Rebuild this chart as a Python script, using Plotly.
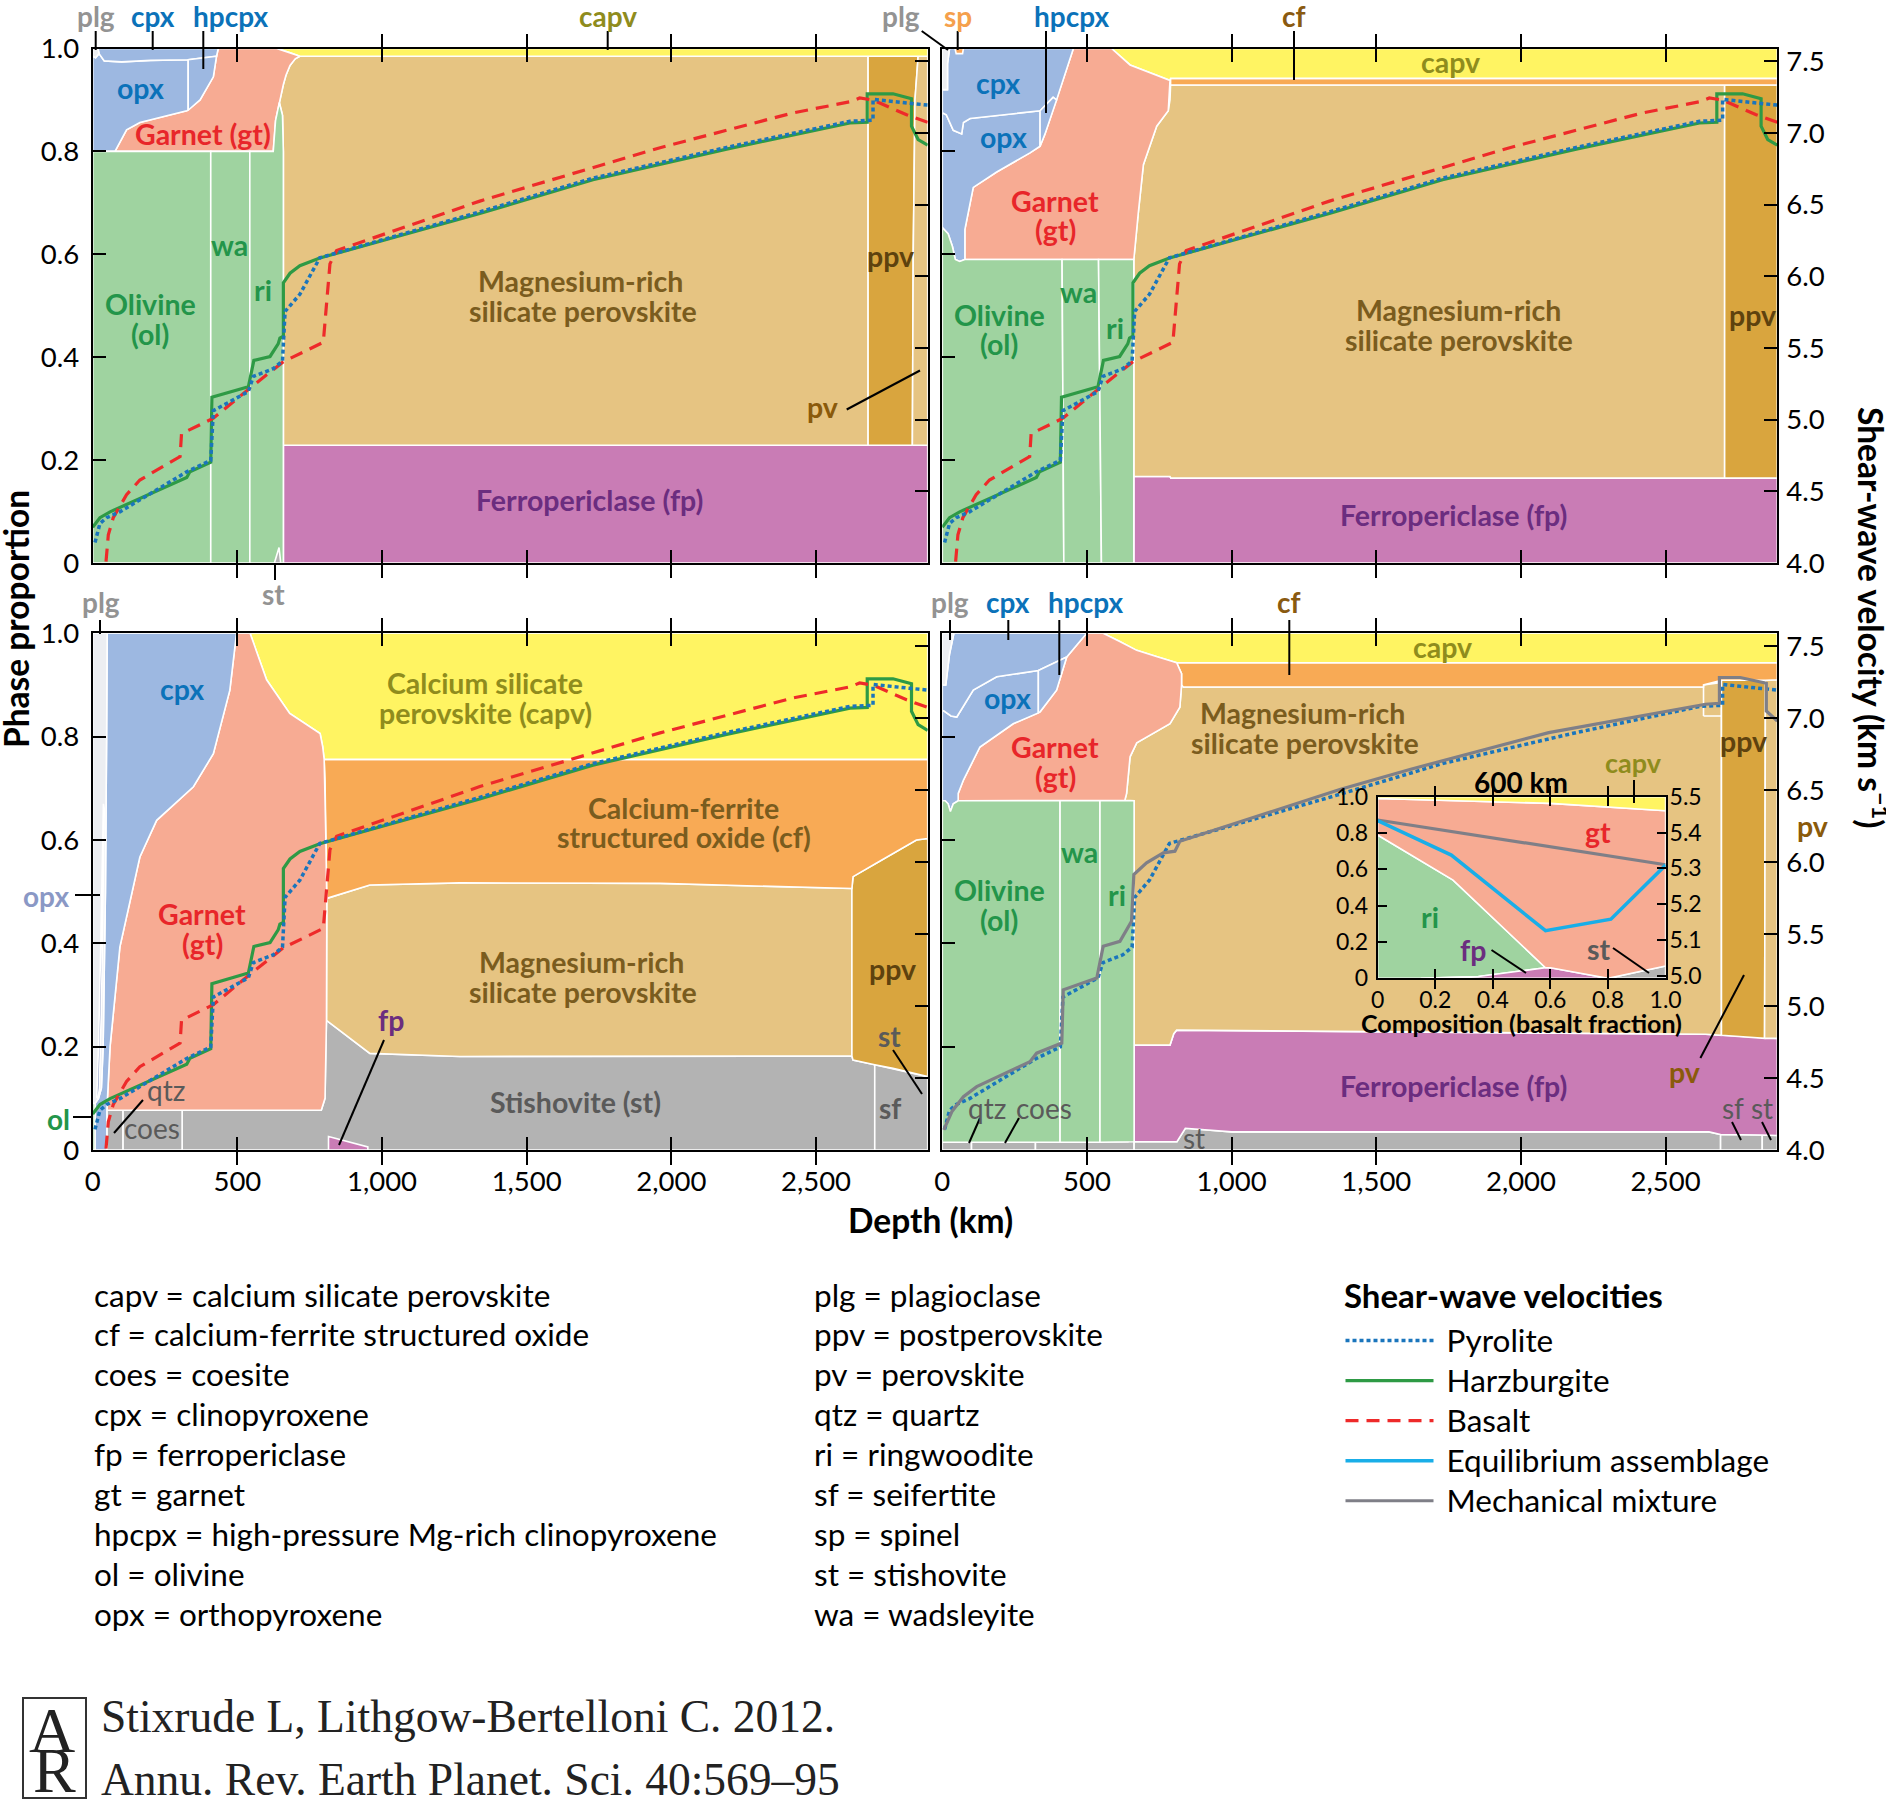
import plotly.graph_objects as go

W, H = 1886, 1808
D = 2886
FONT = "Lato"

# ---------------- velocity profiles (km/s) ----------------
HZ_DEPTH = [0, 25, 60, 325, 336, 408, 412, 538, 557, 613, 641, 647, 659, 659, 682, 716, 785,
            1338, 1729, 2191, 2617, 2677, 2677, 2766, 2830, 2830, 2853, 2886]
HZ_VS = [4.25, 4.316, 4.357, 4.596, 4.637, 4.703, 5.156, 5.23, 5.414, 5.441, 5.529, 5.569, 5.582,
         5.955, 6.022, 6.074, 6.128, 6.439, 6.674, 6.888, 7.07, 7.075, 7.274, 7.274, 7.24, 7.048,
         6.955, 6.915]

PY_DEPTH = [8, 25, 48, 94, 325, 408, 417, 538, 555, 624, 656, 659, 665, 716, 785, 1338, 1729,
            2191, 2617, 2697, 2697, 2790, 2886]
PY_VS = [4.143, 4.276, 4.316, 4.357, 4.636, 4.716, 5.063, 5.196, 5.302, 5.356, 5.409, 5.556,
         5.756, 5.875, 6.13, 6.45, 6.685, 6.90, 7.082, 7.09, 7.235, 7.215, 7.195]

BA_DEPTH = [46, 54, 71, 117, 163, 302, 307, 417, 543, 659, 797, 820, 843, 1338, 1961, 2421, 2617,
            2651, 2697, 2813, 2886]
BA_VS = [4.01, 4.196, 4.316, 4.476, 4.579, 4.743, 4.902, 5.01, 5.22, 5.405, 5.54, 6.087, 6.18,
         6.525, 6.898, 7.141, 7.218, 7.245, 7.23, 7.128, 7.075]

MM_DEPTH = [5, 34, 73, 119, 303, 326, 413, 418, 534, 556, 614, 654, 662, 706, 764, 804, 821,
            1374, 1616, 2096, 2638, 2686, 2686, 2758, 2848, 2848, 2886]
MM_VS = [4.14, 4.27, 4.37, 4.44, 4.614, 4.673, 4.743, 5.113, 5.195, 5.415, 5.45, 5.589, 5.914,
         5.995, 6.065, 6.076, 6.145, 6.505, 6.644, 6.9, 7.097, 7.104, 7.283, 7.283, 7.243, 7.05,
         6.98]

# inset: 600 km, composition (basalt fraction)
INSET_COMP = [0, 0.256, 0.583, 0.81, 1.0]
EQ_VS = [5.433, 5.337, 5.126, 5.158, 5.309]
MECH_COMP = [0, 1.0]
MECH_VS_600 = [5.435, 5.31]

# ---------------- phase regions (depth km, cumulative proportion) ----------------
# Panel A (top left)
A_PLG = [(0, 1.0), (18, 1.0), (22, 0.99), (10, 0.982), (0, 0.985)]
A_CPX = [(18, 1.0), (434, 1.0), (428, 0.985), (330, 0.978), (200, 0.977), (100, 0.974), (40, 0.976), (22, 0.99)]
A_OPX = [(0, 0.80), (77, 0.80), (117, 0.842), (163, 0.856), (325, 0.879), (330, 0.88), (330, 0.978),
         (200, 0.977), (100, 0.974), (40, 0.976), (22, 0.99), (10, 0.982), (0, 0.985)]
A_HPCPX = [(330, 0.88), (371, 0.90), (417, 0.945), (428, 0.985), (330, 0.978)]
A_GT = [(77, 0.80), (624, 0.80), (632, 0.86), (645, 0.895), (659, 0.93), (668, 0.948), (682, 0.967),
        (700, 0.980), (716, 0.985), (680, 0.992), (636, 1.0), (434, 1.0), (428, 0.985), (417, 0.945),
        (371, 0.90), (325, 0.879), (163, 0.856), (117, 0.842)]
A_CAPV = [(636, 1.0), (D, 1.0), (D, 0.985), (716, 0.985), (680, 0.992)]
A_OL = [(0, 0), (408, 0), (408, 0.80), (0, 0.80)]
A_WA = [(408, 0), (543, 0), (543, 0.80), (408, 0.80)]
A_RI = [(543, 0), (659, 0), (659, 0.80), (656, 0.87), (645, 0.895), (632, 0.86), (624, 0.80), (543, 0.80)]
A_ST = [(628, 0), (650, 0), (644, 0.03), (637, 0.015)]
A_FP = [(659, 0), (D, 0), (D, 0.229), (659, 0.229)]
A_PV = [(659, 0.229), (2680, 0.229), (2680, 0.985), (716, 0.985), (700, 0.980), (682, 0.967),
        (668, 0.948), (659, 0.93), (645, 0.895), (656, 0.87), (659, 0.80)]
A_PPV = [(2680, 0.229), (2833, 0.229), (2836, 0.6), (2842, 0.9), (2853, 0.985), (2680, 0.985)]
A_PV2 = [(2833, 0.229), (D, 0.229), (D, 0.985), (2853, 0.985), (2842, 0.9), (2836, 0.6)]

# Panel B (top right)
B_PLG = [(0, 0.92), (18, 0.92), (18, 0.97), (25, 1.0), (0, 1.0)]
B_SP = [(44, 1.0), (73, 1.0), (70, 0.99), (48, 0.99)]
B_CPX = [(0, 0.875), (14, 0.871), (38, 0.841), (67, 0.834), (73, 0.856), (96, 0.864), (338, 0.879),
         (383, 0.905), (395, 0.90), (430, 0.96), (453, 1.0), (25, 1.0), (18, 0.97), (18, 0.92), (0, 0.92)]
B_OPX = [(0, 0.652), (20, 0.64), (35, 0.615), (45, 0.59), (60, 0.586), (78, 0.59), (78, 0.648),
         (107, 0.73), (188, 0.76), (303, 0.797), (338, 0.81), (338, 0.879), (96, 0.864), (73, 0.856),
         (67, 0.834), (38, 0.841), (14, 0.871), (0, 0.875)]
B_HPCPX = [(338, 0.81), (355, 0.834), (395, 0.90), (383, 0.905), (338, 0.879)]
B_GT = [(78, 0.59), (662, 0.59), (677, 0.678), (695, 0.774), (741, 0.849), (781, 0.879), (787, 0.938),
        (683, 0.96), (649, 0.968), (585, 1.0), (453, 1.0), (430, 0.96), (395, 0.90), (355, 0.834),
        (338, 0.81), (303, 0.797), (188, 0.76), (107, 0.73), (78, 0.648)]
B_CAPV = [(585, 1.0), (D, 1.0), (D, 0.942), (789, 0.942), (787, 0.938), (683, 0.96), (649, 0.968)]
B_CF = [(789, 0.942), (D, 0.942), (D, 0.929), (789, 0.929)]
B_PV = [(662, 0.168), (787, 0.168), (790, 0.165), (2704, 0.165), (2704, 0.929), (789, 0.929),
        (787, 0.90), (781, 0.879), (741, 0.849), (695, 0.774), (677, 0.678), (662, 0.59)]
B_PPV = [(2704, 0.165), (D, 0.165), (D, 0.929), (2704, 0.929)]
B_OL = [(0, 0), (420, 0), (414, 0.59), (78, 0.59), (60, 0.586), (45, 0.59), (35, 0.615), (20, 0.64), (0, 0.652)]
B_WA = [(420, 0), (550, 0), (540, 0.59), (414, 0.59)]
B_RI = [(550, 0), (662, 0), (662, 0.59), (540, 0.59)]
B_FP = [(662, 0), (D, 0), (D, 0.165), (790, 0.165), (787, 0.168), (662, 0.168)]

# Panel C (bottom left)
C_OL = [(0, 0), (8, 0), (8, 0.09), (0, 0.09)]
C_PLG = [(0, 0.09), (8, 0.09), (20, 0.1), (30, 0.12), (36, 0.2), (44, 0.5), (48, 0.8), (50, 1.0), (0, 1.0)]
C_CPX = [(8, 0), (49, 0), (49, 0.077), (56, 0.161), (60, 0.2), (94, 0.393), (163, 0.567), (221, 0.638),
         (348, 0.703), (417, 0.767), (474, 0.89), (497, 1.0), (50, 1.0), (48, 0.8), (44, 0.5), (36, 0.2),
         (30, 0.12), (20, 0.1), (8, 0.09)]
C_OPX = [(14, 0.1), (20, 0.2), (28, 0.4), (33, 0.55), (37, 0.67), (40, 0.66), (37, 0.5), (31, 0.3),
         (23, 0.12), (19, 0.1)]
C_QTZ = [(49, 0), (105, 0), (105, 0.077), (49, 0.077)]
C_COES = [(105, 0), (309, 0), (309, 0.077), (105, 0.077)]
C_GT = [(49, 0.077), (790, 0.077), (803, 0.10), (806, 0.20), (808, 0.251), (809, 0.458), (809, 0.487),
        (806, 0.60), (803, 0.716), (800, 0.756), (795, 0.78), (786, 0.806), (681, 0.845), (601, 0.91),
        (544, 1.0), (497, 1.0), (474, 0.89), (417, 0.767), (348, 0.703), (221, 0.638), (163, 0.567),
        (94, 0.393), (60, 0.2), (56, 0.161)]
C_CAPV = [(544, 1.0), (D, 1.0), (D, 0.756), (800, 0.756), (795, 0.78), (786, 0.806), (681, 0.845), (601, 0.91)]
C_CF = [(809, 0.487), (958, 0.513), (1269, 0.517), (1961, 0.516), (2624, 0.506), (2628, 0.529),
        (2708, 0.555), (2766, 0.574), (2847, 0.60), (D, 0.603), (D, 0.756), (800, 0.756), (803, 0.716),
        (806, 0.60)]
C_PV = [(808, 0.251), (958, 0.187), (1269, 0.181), (2624, 0.182), (2624, 0.506), (1961, 0.516),
        (1269, 0.517), (958, 0.513), (809, 0.487), (809, 0.458)]
C_PPV = [(2624, 0.182), (2628, 0.174), (2703, 0.165), (2766, 0.158), (D, 0.142), (D, 0.603),
         (2847, 0.60), (2766, 0.574), (2708, 0.555), (2628, 0.529), (2624, 0.506)]
C_ST = [(309, 0), (2703, 0), (2703, 0.165), (2628, 0.174), (2624, 0.182), (1269, 0.181), (958, 0.187),
        (808, 0.251), (806, 0.20), (803, 0.10), (790, 0.077), (309, 0.077)]
C_SF = [(2703, 0), (D, 0), (D, 0.142), (2766, 0.158), (2703, 0.165)]
C_FP = [(815, 0), (951, 0), (951, 0.006), (815, 0.026)]

# Panel D (bottom right)
D_QTZ = [(0, 0), (101, 0), (101, 0.015), (0, 0.015)]
D_COES = [(101, 0), (322, 0), (322, 0.015), (101, 0.015)]
D_ST1 = [(322, 0), (663, 0), (663, 0.016), (650, 0.03), (642, 0.016), (322, 0.015)]
D_ST2 = [(663, 0), (2690, 0), (2690, 0.03), (2650, 0.035), (1000, 0.035), (840, 0.042), (811, 0.016), (663, 0.016)]
D_SF = [(2690, 0), (2834, 0), (2834, 0.029), (2690, 0.03)]
D_ST3 = [(2834, 0), (D, 0), (D, 0.028), (2834, 0.029)]
D_OL = [(0, 0.015), (407, 0.015), (407, 0.676), (55, 0.676), (38, 0.67), (28, 0.655), (20, 0.67),
        (10, 0.676), (0, 0.676)]
D_WA = [(407, 0.015), (545, 0.015), (545, 0.676), (407, 0.676)]
D_RI = [(545, 0.015), (663, 0.016), (663, 0.676), (545, 0.676)]
D_FP = [(663, 0.016), (811, 0.016), (840, 0.042), (1000, 0.035), (2650, 0.035), (2690, 0.03),
        (2834, 0.029), (D, 0.028), (D, 0.216), (2638, 0.224), (810, 0.232), (800, 0.225), (787, 0.203),
        (663, 0.203)]
D_PV = [(663, 0.203), (787, 0.203), (800, 0.225), (810, 0.232), (2638, 0.224), (2693, 0.222),
        (2693, 0.905), (2631, 0.90), (2631, 0.896), (833, 0.896), (827, 0.90), (821, 0.857),
        (787, 0.825), (672, 0.788), (649, 0.761), (637, 0.69), (631, 0.677), (663, 0.676)]
D_PV_PATCH = [(2631, 0.84), (2693, 0.84), (2693, 0.905), (2631, 0.90)]
D_PPV = [(2693, 0.222), (2842, 0.216), (2845, 0.909), (2693, 0.909)]
D_PV2 = [(2842, 0.216), (D, 0.216), (D, 0.91), (2845, 0.909)]
D_CF = [(810, 0.943), (D, 0.943), (D, 0.91), (2845, 0.909), (2693, 0.909), (2631, 0.90),
        (2631, 0.896), (833, 0.896), (827, 0.90), (827, 0.922)]
D_CAPV = [(556, 1.0), (D, 1.0), (D, 0.943), (810, 0.943), (740, 0.955), (672, 0.967), (610, 0.985)]
D_GT = [(55, 0.676), (631, 0.677), (637, 0.69), (649, 0.761), (672, 0.788), (787, 0.825), (821, 0.857),
        (827, 0.90), (827, 0.922), (810, 0.943), (740, 0.955), (672, 0.967), (610, 0.985), (556, 1.0),
        (499, 1.0), (430, 0.954), (395, 0.89), (338, 0.848), (245, 0.825), (130, 0.78), (73, 0.716),
        (55, 0.69)]
D_OPX = [(0, 0.676), (10, 0.676), (20, 0.67), (28, 0.655), (38, 0.67), (55, 0.676), (55, 0.69),
         (73, 0.716), (130, 0.78), (245, 0.825), (332, 0.846), (332, 0.928), (188, 0.916), (107, 0.89),
         (50, 0.838), (30, 0.84), (5, 0.85), (0, 0.85)]
D_HPCPX = [(332, 0.846), (338, 0.848), (395, 0.89), (430, 0.954), (332, 0.928)]
D_CPX = [(0, 0.85), (5, 0.85), (30, 0.84), (50, 0.838), (107, 0.89), (188, 0.916), (332, 0.928),
         (430, 0.954), (499, 1.0), (40, 1.0), (25, 0.96), (12, 0.9), (0, 0.9)]
D_PLG = [(0, 0.9), (12, 0.9), (25, 0.96), (40, 1.0), (0, 1.0)]

# Inset (600 km vs composition)
I_RI = [(0, 0), (0.15, 0), (0.35, 0.01), (0.52, 0.045), (0.583, 0.058), (0.262, 0.541), (0, 0.789)]
I_FP = [(0.15, 0), (0.8, 0), (0.6, 0.058), (0.583, 0.058), (0.52, 0.045), (0.35, 0.01)]
I_ST = [(0.8, 0), (1, 0), (1, 0.068), (0.9, 0.035)]
I_GT = [(0, 0.789), (0.262, 0.541), (0.583, 0.058), (0.6, 0.058), (0.8, 0), (0.9, 0.035), (1, 0.068),
        (1, 0.923), (0.6, 0.963), (0, 0.99)]
I_CAPV = [(0, 0.99), (0.6, 0.963), (1, 0.923), (1, 1), (0, 1)]

# ---------------- tick labels / text ----------------
X_TICKS = [0, 500, 1000, 1500, 2000, 2500]
X_TICK_TEXT = ["0", "500", "1,000", "1,500", "2,000", "2,500"]
P_TICKS = [0, 0.2, 0.4, 0.6, 0.8, 1.0]
P_TICK_TEXT = ["0", "0.2", "0.4", "0.6", "0.8", "1.0"]
V_TICKS = [4.0, 4.5, 5.0, 5.5, 6.0, 6.5, 7.0, 7.5]
V_TICK_TEXT = ["4.0", "4.5", "5.0", "5.5", "6.0", "6.5", "7.0", "7.5"]
IV_TICKS = [5.0, 5.1, 5.2, 5.3, 5.4, 5.5]
IV_TICK_TEXT = ["5.0", "5.1", "5.2", "5.3", "5.4", "5.5"]

ABBREV_LEFT = ["capv = calcium silicate perovskite", "cf = calcium-ferrite structured oxide",
               "coes = coesite", "cpx = clinopyroxene", "fp = ferropericlase", "gt = garnet",
               "hpcpx = high-pressure Mg-rich clinopyroxene", "ol = olivine", "opx = orthopyroxene"]
ABBREV_RIGHT = ["plg = plagioclase", "ppv = postperovskite", "pv = perovskite", "qtz = quartz",
                "ri = ringwoodite", "sf = seifertite", "sp = spinel", "st = stishovite",
                "wa = wadsleyite"]

# ---------------- styles ----------------
C = dict(ol="#9fd3a0", px="#9db8e1", gt="#f7ab93", pv="#e6c482", fp="#c97cb5", capv="#fff462",
         cf="#f8aa55", ppv="#d9a53e", st="#b3b3b3", plg="#eceef2", sp="#f9a55a", opx2="#8593bf")
T = dict(blue="#0b72b9", red="#e8262a", green="#23954a", brown="#7a5c1e", purple="#6b2d7f",
         olive="#8f8c1d", gray="#939393", dgray="#5a5a5a", ppv="#5e420e", pv="#8a5a0b",
         sp="#f5a04c", cf="#8a5a10", opx2="#8a98c5")
LBL = 28.5   # region label size
TOP = 28     # small phase label size

fig = go.Figure()


def poly(pts, color, xa, ya):
    xs = [p[0] for p in pts] + [pts[0][0]]
    ys = [p[1] for p in pts] + [pts[0][1]]
    fig.add_trace(go.Scatter(x=xs, y=ys, xaxis=xa, yaxis=ya, mode="lines", fill="toself",
                             fillcolor=color, line=dict(color="white", width=1.6),
                             hoverinfo="skip", showlegend=False))


PANELS = {
    ("x", "y"): [(A_FP, "fp"), (A_PV, "pv"), (A_PPV, "ppv"), (A_PV2, "pv"), (A_CAPV, "capv"),
                 (A_GT, "gt"), (A_OPX, "px"), (A_CPX, "px"), (A_HPCPX, "px"), (A_PLG, "plg"),
                 (A_OL, "ol"), (A_WA, "ol"), (A_RI, "ol"), (A_ST, "st")],
    ("x2", "y3"): [(B_FP, "fp"), (B_PV, "pv"), (B_PPV, "ppv"), (B_CF, "cf"), (B_CAPV, "capv"),
                   (B_GT, "gt"), (B_OPX, "px"), (B_CPX, "px"), (B_HPCPX, "px"), (B_PLG, "plg"),
                   (B_SP, "sp"), (B_OL, "ol"), (B_WA, "ol"), (B_RI, "ol")],
    ("x3", "y5"): [(C_ST, "st"), (C_SF, "st"), (C_QTZ, "st"), (C_COES, "st"), (C_FP, "fp"),
                   (C_PV, "pv"), (C_PPV, "ppv"), (C_CF, "cf"), (C_CAPV, "capv"), (C_GT, "gt"),
                   (C_CPX, "px"), (C_PLG, "plg"), (C_OPX, "opx2"), (C_OL, "ol")],
    ("x4", "y7"): [(D_QTZ, "st"), (D_COES, "st"), (D_ST1, "st"), (D_ST2, "st"), (D_SF, "st"),
                   (D_ST3, "st"), (D_FP, "fp"), (D_PV, "pv"), (D_PV_PATCH, "pv"), (D_PPV, "ppv"),
                   (D_PV2, "pv"), (D_CF, "cf"), (D_CAPV, "capv"), (D_GT, "gt"), (D_OPX, "px"),
                   (D_CPX, "px"), (D_HPCPX, "px"), (D_PLG, "plg"), (D_OL, "ol"), (D_WA, "ol"),
                   (D_RI, "ol")],
    ("x5", "y9"): [(I_RI, "ol"), (I_FP, "fp"), (I_ST, "st"), (I_GT, "gt"), (I_CAPV, "capv")],
}
for (xa, ya), regions in PANELS.items():
    for pts, key in regions:
        poly(pts, C[key], xa, ya)

PY_STYLE = dict(color="#1a75bc", width=3.5, dash="4px,3px")
HZ_STYLE = dict(color="#2e9a45", width=3.2)
BA_STYLE = dict(color="#ee2a2a", width=3.2, dash="13px,8px")
EQ_STYLE = dict(color="#19aee8", width=3.5)
MM_STYLE = dict(color="#7f7f87", width=3.2)


def legname(s):
    return f'<span style="font-size:31.5px">\u00a0{s}</span>'


def line(xa, ya, xs, ys, style, name, show, rank):
    fig.add_trace(go.Scatter(x=xs, y=ys, xaxis=xa, yaxis=ya, mode="lines", line=style,
                             name=legname(name), showlegend=show, legendrank=rank,
                             hoverinfo="skip"))


for i, (xa, ya) in enumerate([("x", "y2"), ("x2", "y4"), ("x3", "y6")]):
    first = i == 0
    line(xa, ya, HZ_DEPTH, HZ_VS, HZ_STYLE, "Harzburgite", first, 2)
    line(xa, ya, BA_DEPTH, BA_VS, BA_STYLE, "Basalt", first, 3)
    line(xa, ya, PY_DEPTH, PY_VS, PY_STYLE, "Pyrolite", first, 1)
line("x4", "y8", PY_DEPTH, PY_VS, PY_STYLE, "Pyrolite", False, 1)
line("x4", "y8", MM_DEPTH, MM_VS, MM_STYLE, "Mechanical mixture", True, 5)
line("x5", "y10", MECH_COMP, MECH_VS_600, MM_STYLE, "Mechanical mixture", False, 5)
line("x5", "y10", INSET_COMP, EQ_VS, EQ_STYLE, "Equilibrium assemblage", True, 4)

# ---------------- axes ----------------
COLS = [(92.7, 927.7), (942.3, 1777.3)]
ROWS = [(48.5, 563.0), (633.3, 1150.0)]
TICKFONT = dict(family=FONT, size=27.5, color="black")


def xdom(c):
    return [COLS[c][0] / W, COLS[c][1] / W]


def ydom(r):
    return [1 - ROWS[r][1] / H, 1 - ROWS[r][0] / H]


base = dict(showline=True, linewidth=2, linecolor="black", ticks="inside", ticklen=13, tickwidth=2,
            tickcolor="black", showgrid=False, zeroline=False, tickfont=TICKFONT, automargin=False)

layout_axes = {}
specs = [("xaxis", "yaxis", "yaxis2", "x", "y", 0, 0),
         ("xaxis2", "yaxis3", "yaxis4", "x2", "y3", 1, 0),
         ("xaxis3", "yaxis5", "yaxis6", "x3", "y5", 0, 1),
         ("xaxis4", "yaxis7", "yaxis8", "x4", "y7", 1, 1)]
for xk, yk, y2k, xn, yn, c, r in specs:
    layout_axes[xk] = dict(base, domain=xdom(c), range=[0, D], anchor=yn, mirror="allticks",
                           tickvals=X_TICKS, ticktext=X_TICK_TEXT, showticklabels=(r == 1),
                           ticklabelstandoff=6)
    layout_axes[yk] = dict(base, domain=ydom(r), range=[0, 1], anchor=xn, mirror=True,
                           tickvals=P_TICKS, ticktext=P_TICK_TEXT, showticklabels=(c == 0),
                           ticklabelstandoff=6)
    layout_axes[y2k] = dict(base, showline=False, range=[4.0, 7.59], anchor=xn, overlaying=yn,
                            side="right", tickvals=V_TICKS, ticktext=V_TICK_TEXT,
                            showticklabels=(c == 1), ticklabelstandoff=8)

IN_X = [1377.6 / W, 1665.6 / W]
IN_Y = [1 - 978.3 / H, 1 - 796.7 / H]
ibase = dict(base, ticklen=9, tickwidth=1.8, tickfont=dict(family=FONT, size=23, color="black"))
layout_axes["xaxis5"] = dict(ibase, domain=IN_X, range=[0, 1], anchor="y9", mirror="allticks",
                             tickvals=P_TICKS, ticktext=P_TICK_TEXT, ticklabelstandoff=0)
layout_axes["yaxis9"] = dict(ibase, domain=IN_Y, range=[0, 1], anchor="x5", mirror=True,
                             tickvals=P_TICKS, ticktext=P_TICK_TEXT, ticklabelstandoff=3)
layout_axes["yaxis10"] = dict(ibase, showline=False, range=[4.993, 5.5], anchor="x5",
                              overlaying="y9", side="right", tickvals=IV_TICKS,
                              ticktext=IV_TICK_TEXT, ticklabelstandoff=3)

fig.update_layout(width=W, height=H, autosize=False,
                  margin=dict(l=0, r=0, t=0, b=0, pad=0, autoexpand=False),
                  paper_bgcolor="white", plot_bgcolor="white", font=dict(family=FONT),
                  **layout_axes)


# ---------------- text helpers ----------------
def txt(s, x, y, color, size=LBL, bold=True, xanchor="center", angle=0, family=FONT):
    fig.add_annotation(text=f"<b>{s}</b>" if bold else s, x=x / W, y=1 - y / H, xref="paper",
                       yref="paper", showarrow=False, xanchor=xanchor, yanchor="middle",
                       font=dict(family=family, size=size, color=color), textangle=angle)


def leader(x0, y0, x1, y1, color="black", w=2):
    fig.add_shape(type="line", xref="paper", yref="paper", x0=x0 / W, y0=1 - y0 / H, x1=x1 / W,
                  y1=1 - y1 / H, line=dict(color=color, width=w))


# top row labels above panels
for s, x, col in [("plg", 95.5, T["gray"]), ("cpx", 152.5, T["blue"]), ("hpcpx", 230.5, T["blue"]),
                  ("capv", 607.5, T["olive"]), ("plg", 901, T["gray"]), ("sp", 957.5, T["sp"]),
                  ("hpcpx", 1072, T["blue"]), ("cf", 1294, T["cf"])]:
    txt(s, x, 16.5, col, TOP)
leader(95.7, 31, 95.7, 50)
leader(152.7, 31, 152.7, 50)
leader(203.3, 31, 203.3, 69)
leader(607.7, 31, 607.7, 50)
leader(921.7, 31, 948, 50)
leader(957.7, 31, 957.7, 50)
leader(1046, 31, 1046, 113)
leader(1294, 31, 1294, 80)

# Panel A labels
txt("opx", 140, 88, T["blue"])
txt("Garnet (gt)", 203, 134, T["red"])
txt("Olivine", 150, 304, T["green"])
txt("(ol)", 150, 334, T["green"])
txt("wa", 229, 245, T["green"])
txt("ri", 263, 290, T["green"])
txt("Magnesium-rich", 580, 281, T["brown"])
txt("silicate perovskite", 583, 311, T["brown"])
txt("Ferropericlase (fp)", 589, 500, T["purple"])
txt("ppv", 890, 256, T["ppv"])
txt("pv", 822, 407, T["pv"])
leader(846.7, 409.5, 920, 370.5)
txt("st", 273, 594, T["gray"], TOP)
leader(275, 563, 275, 580)

# Panel B labels
txt("cpx", 998, 83, T["blue"])
txt("opx", 1003, 137, T["blue"])
txt("Garnet", 1055, 201, T["red"])
txt("(gt)", 1055, 230, T["red"])
txt("Olivine", 999, 315, T["green"])
txt("(ol)", 999, 344, T["green"])
txt("wa", 1078, 292, T["green"])
txt("ri", 1115, 328, T["green"])
txt("capv", 1450, 62, T["olive"])
txt("Magnesium-rich", 1458, 310, T["brown"])
txt("silicate perovskite", 1459, 340, T["brown"])
txt("Ferropericlase (fp)", 1453, 515, T["purple"])
txt("ppv", 1752, 315, T["ppv"])

# Panel C labels
txt("plg", 101, 602, T["gray"], TOP)
leader(100, 620, 100, 634)
txt("opx", 46, 896, T["opx2"], TOP)
leader(75, 895, 100, 895)
txt("ol", 58, 1119, T["green"], TOP)
leader(73, 1117, 93, 1117)
txt("qtz", 166, 1090, T["dgray"], TOP, bold=False)
leader(143, 1100, 114, 1133)
txt("coes", 152, 1128, T["dgray"], TOP, bold=False)
txt("cpx", 182, 689, T["blue"])
txt("Garnet", 202, 914, T["red"])
txt("(gt)", 202, 944, T["red"])
txt("Calcium silicate", 485, 683, T["olive"])
txt("perovskite (capv)", 485, 713, T["olive"])
txt("Calcium-ferrite", 683, 808, T["brown"])
txt("structured oxide (cf)", 684, 837, T["brown"])
txt("Magnesium-rich", 581, 962, T["brown"])
txt("silicate perovskite", 583, 992, T["brown"])
txt("fp", 391, 1020, T["purple"])
leader(384, 1040, 339, 1145)
txt("Stishovite (st)", 575, 1102, T["dgray"])
txt("ppv", 892, 969, T["ppv"])
txt("st", 889, 1036, T["dgray"], TOP)
leader(893, 1050, 922, 1094)
txt("sf", 890, 1108, T["dgray"], TOP)

# Panel D labels
txt("plg", 950, 602, T["gray"], TOP)
leader(950, 620, 950, 640)
txt("cpx", 1008, 602, T["blue"], TOP)
leader(1008.3, 620, 1008.3, 640)
txt("hpcpx", 1085.5, 602, T["blue"], TOP)
leader(1059.3, 620, 1059.3, 675)
txt("cf", 1289, 602, T["cf"], TOP)
leader(1289.3, 620, 1289.3, 675)
txt("opx", 1007, 698, T["blue"])
txt("Garnet", 1055, 747, T["red"])
txt("(gt)", 1055, 777, T["red"])
txt("Olivine", 999, 890, T["green"])
txt("(ol)", 999, 920, T["green"])
txt("wa", 1079, 852, T["green"])
txt("ri", 1117, 895, T["green"])
txt("capv", 1442, 647, T["olive"])
txt("Magnesium-rich", 1302, 713, T["brown"])
txt("silicate perovskite", 1305, 743, T["brown"])
txt("ppv", 1743, 741, T["ppv"])
txt("pv", 1812, 826, T["pv"])
txt("pv", 1684, 1072, T["pv"])
leader(1700.4, 1058, 1744, 975)
txt("Ferropericlase (fp)", 1453, 1086, T["purple"])
txt("qtz", 987, 1108, T["dgray"], TOP, bold=False)
txt("coes", 1044, 1108, T["dgray"], TOP, bold=False)
leader(980, 1118, 969, 1143)
leader(1019, 1118, 1005, 1143)
txt("st", 1194, 1138, T["dgray"], TOP, bold=False)
txt("sf", 1733, 1108, T["dgray"], TOP, bold=False)
txt("st", 1762, 1108, T["dgray"], TOP, bold=False)
leader(1732, 1122, 1741, 1140)
leader(1762, 1122, 1771, 1140)

# inset labels
txt("600 km", 1521, 782, "black", 28)
txt("capv", 1633, 762, T["olive"], 27)
leader(1634, 780, 1634, 803)
txt("gt", 1598, 832, T["red"])
txt("ri", 1430, 917, T["green"])
txt("fp", 1473, 950, T["purple"])
leader(1491.5, 950, 1526, 973)
txt("st", 1599, 949, T["dgray"])
leader(1613, 948, 1649, 973)
txt("Composition (basalt fraction)", 1521, 1023, "black", 25)

# axis titles
txt("Phase proportion", 16, 619, "black", 33.5, angle=-90)
txt("Depth (km)", 930, 1220, "black", 33.5)
txt("Shear-wave velocity (km s<sup>−1</sup>)", 1873, 617, "black", 33.5, angle=90)

# abbreviation key
for i, s in enumerate(ABBREV_LEFT):
    txt(s, 91.6, 1294.5 + 39.9 * i, "black", 31.5, bold=False, xanchor="left")
for i, s in enumerate(ABBREV_RIGHT):
    txt(s, 811.6, 1294.5 + 39.9 * i, "black", 31.5, bold=False, xanchor="left")

# legend for velocity curves
txt("Shear-wave velocities", 1342, 1295, "black", 33, xanchor="left")
fig.update_layout(legend=dict(x=1340.5 / W, y=1 - 1315.5 / H, xanchor="left", yanchor="top",
                              bgcolor="rgba(0,0,0,0)", itemwidth=88, traceorder="normal",
                              font=dict(family=FONT, size=28.5, color="black")))

# citation
fig.add_shape(type="rect", xref="paper", yref="paper", x0=23 / W, y0=1 - 1698 / H, x1=86 / W,
              y1=1 - 1798 / H, line=dict(color="#333333", width=2))
txt("A", 52, 1730, "#222222", 64, bold=False, family="Liberation Serif")
txt("R", 54, 1770, "#222222", 64, bold=False, family="Liberation Serif")
txt("Stixrude L, Lithgow-Bertelloni C. 2012.", 99, 1716, "#222222", 45.5, bold=False,
    xanchor="left", family="Liberation Serif")
txt("Annu. Rev. Earth Planet. Sci. 40:569–95", 99, 1779, "#222222", 45.5, bold=False,
    xanchor="left", family="Liberation Serif")

fig.write_html("out.html")
